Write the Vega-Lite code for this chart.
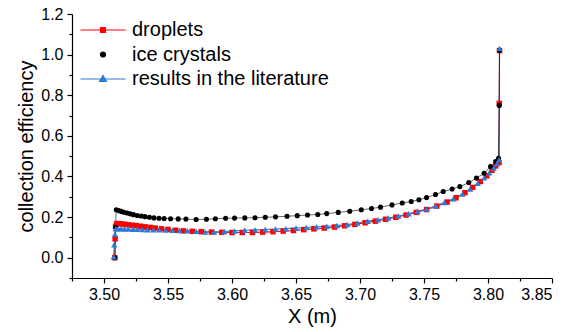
{
  "$schema": "https://vega.github.io/schema/vega-lite/v6.json",
  "width": 480,
  "height": 264,
  "autosize": {"type": "none"},
  "padding": {"left": 72, "top": 14, "right": 27, "bottom": 54},
  "background": "white",
  "config": {
    "view": {"stroke": null},
    "font": "Liberation Sans",
    "axis": {"domainColor": "black", "tickColor": "black", "labelColor": "black", "titleColor": "black", "grid": false, "domainWidth": 1.2, "tickWidth": 1.2, "labelFont": "Liberation Sans", "titleFont": "Liberation Sans", "titleFontWeight": "normal"}
  },
  "data": {"values": [
    {"s": "droplets", "x": 3.5084, "y": 0.0},
    {"s": "droplets", "x": 3.5087, "y": 0.093},
    {"s": "droplets", "x": 3.5091, "y": 0.155},
    {"s": "droplets", "x": 3.5100, "y": 0.168},
    {"s": "droplets", "x": 3.5120, "y": 0.167},
    {"s": "droplets", "x": 3.5140, "y": 0.166},
    {"s": "droplets", "x": 3.5165, "y": 0.164},
    {"s": "droplets", "x": 3.5190, "y": 0.162},
    {"s": "droplets", "x": 3.5220, "y": 0.160},
    {"s": "droplets", "x": 3.5250, "y": 0.158},
    {"s": "droplets", "x": 3.5285, "y": 0.155},
    {"s": "droplets", "x": 3.5320, "y": 0.152},
    {"s": "droplets", "x": 3.5360, "y": 0.149},
    {"s": "droplets", "x": 3.5400, "y": 0.146},
    {"s": "droplets", "x": 3.5450, "y": 0.142},
    {"s": "droplets", "x": 3.5500, "y": 0.139},
    {"s": "droplets", "x": 3.5560, "y": 0.135},
    {"s": "droplets", "x": 3.5620, "y": 0.132},
    {"s": "droplets", "x": 3.5690, "y": 0.130},
    {"s": "droplets", "x": 3.5760, "y": 0.128},
    {"s": "droplets", "x": 3.5840, "y": 0.126},
    {"s": "droplets", "x": 3.5920, "y": 0.125},
    {"s": "droplets", "x": 3.6000, "y": 0.124},
    {"s": "droplets", "x": 3.6080, "y": 0.124},
    {"s": "droplets", "x": 3.6160, "y": 0.124},
    {"s": "droplets", "x": 3.6240, "y": 0.126},
    {"s": "droplets", "x": 3.6320, "y": 0.128},
    {"s": "droplets", "x": 3.6400, "y": 0.131},
    {"s": "droplets", "x": 3.6480, "y": 0.134},
    {"s": "droplets", "x": 3.6560, "y": 0.138},
    {"s": "droplets", "x": 3.6640, "y": 0.142},
    {"s": "droplets", "x": 3.6720, "y": 0.146},
    {"s": "droplets", "x": 3.6800, "y": 0.151},
    {"s": "droplets", "x": 3.6880, "y": 0.157},
    {"s": "droplets", "x": 3.6960, "y": 0.164},
    {"s": "droplets", "x": 3.7040, "y": 0.172},
    {"s": "droplets", "x": 3.7120, "y": 0.180},
    {"s": "droplets", "x": 3.7200, "y": 0.189},
    {"s": "droplets", "x": 3.7280, "y": 0.199},
    {"s": "droplets", "x": 3.7360, "y": 0.210},
    {"s": "droplets", "x": 3.7440, "y": 0.223},
    {"s": "droplets", "x": 3.7520, "y": 0.237},
    {"s": "droplets", "x": 3.7600, "y": 0.254},
    {"s": "droplets", "x": 3.7680, "y": 0.274},
    {"s": "droplets", "x": 3.7750, "y": 0.295},
    {"s": "droplets", "x": 3.7820, "y": 0.320},
    {"s": "droplets", "x": 3.7880, "y": 0.346},
    {"s": "droplets", "x": 3.7940, "y": 0.375},
    {"s": "droplets", "x": 3.7990, "y": 0.403},
    {"s": "droplets", "x": 3.8030, "y": 0.430},
    {"s": "droplets", "x": 3.8060, "y": 0.452},
    {"s": "droplets", "x": 3.8086, "y": 0.468},
    {"s": "droplets", "x": 3.8088, "y": 0.760},
    {"s": "droplets", "x": 3.8090, "y": 1.020},
    {"s": "ice crystals", "x": 3.5086, "y": 0.0},
    {"s": "ice crystals", "x": 3.5090, "y": 0.150},
    {"s": "ice crystals", "x": 3.5096, "y": 0.236},
    {"s": "ice crystals", "x": 3.5115, "y": 0.232},
    {"s": "ice crystals", "x": 3.5135, "y": 0.228},
    {"s": "ice crystals", "x": 3.5155, "y": 0.224},
    {"s": "ice crystals", "x": 3.5180, "y": 0.220},
    {"s": "ice crystals", "x": 3.5205, "y": 0.216},
    {"s": "ice crystals", "x": 3.5230, "y": 0.212},
    {"s": "ice crystals", "x": 3.5260, "y": 0.208},
    {"s": "ice crystals", "x": 3.5290, "y": 0.205},
    {"s": "ice crystals", "x": 3.5320, "y": 0.202},
    {"s": "ice crystals", "x": 3.5355, "y": 0.199},
    {"s": "ice crystals", "x": 3.5390, "y": 0.196},
    {"s": "ice crystals", "x": 3.5430, "y": 0.194},
    {"s": "ice crystals", "x": 3.5470, "y": 0.193},
    {"s": "ice crystals", "x": 3.5520, "y": 0.192},
    {"s": "ice crystals", "x": 3.5580, "y": 0.191},
    {"s": "ice crystals", "x": 3.5640, "y": 0.190},
    {"s": "ice crystals", "x": 3.5720, "y": 0.188},
    {"s": "ice crystals", "x": 3.5800, "y": 0.189},
    {"s": "ice crystals", "x": 3.5870, "y": 0.192},
    {"s": "ice crystals", "x": 3.5950, "y": 0.194},
    {"s": "ice crystals", "x": 3.6020, "y": 0.195},
    {"s": "ice crystals", "x": 3.6100, "y": 0.196},
    {"s": "ice crystals", "x": 3.6180, "y": 0.197},
    {"s": "ice crystals", "x": 3.6260, "y": 0.199},
    {"s": "ice crystals", "x": 3.6340, "y": 0.201},
    {"s": "ice crystals", "x": 3.6430, "y": 0.204},
    {"s": "ice crystals", "x": 3.6510, "y": 0.207},
    {"s": "ice crystals", "x": 3.6590, "y": 0.210},
    {"s": "ice crystals", "x": 3.6670, "y": 0.213},
    {"s": "ice crystals", "x": 3.6740, "y": 0.217},
    {"s": "ice crystals", "x": 3.6830, "y": 0.223},
    {"s": "ice crystals", "x": 3.6920, "y": 0.229},
    {"s": "ice crystals", "x": 3.7010, "y": 0.236},
    {"s": "ice crystals", "x": 3.7090, "y": 0.242},
    {"s": "ice crystals", "x": 3.7160, "y": 0.249},
    {"s": "ice crystals", "x": 3.7250, "y": 0.260},
    {"s": "ice crystals", "x": 3.7330, "y": 0.269},
    {"s": "ice crystals", "x": 3.7400, "y": 0.277},
    {"s": "ice crystals", "x": 3.7460, "y": 0.285},
    {"s": "ice crystals", "x": 3.7520, "y": 0.296},
    {"s": "ice crystals", "x": 3.7590, "y": 0.311},
    {"s": "ice crystals", "x": 3.7650, "y": 0.326},
    {"s": "ice crystals", "x": 3.7720, "y": 0.338},
    {"s": "ice crystals", "x": 3.7780, "y": 0.350},
    {"s": "ice crystals", "x": 3.7850, "y": 0.370},
    {"s": "ice crystals", "x": 3.7910, "y": 0.392},
    {"s": "ice crystals", "x": 3.7970, "y": 0.416},
    {"s": "ice crystals", "x": 3.8020, "y": 0.449},
    {"s": "ice crystals", "x": 3.8060, "y": 0.473},
    {"s": "ice crystals", "x": 3.8082, "y": 0.490},
    {"s": "ice crystals", "x": 3.8088, "y": 0.750},
    {"s": "ice crystals", "x": 3.8090, "y": 1.020},
    {"s": "results in the literature", "x": 3.5076, "y": 0.005},
    {"s": "results in the literature", "x": 3.5080, "y": 0.064},
    {"s": "results in the literature", "x": 3.5086, "y": 0.115},
    {"s": "results in the literature", "x": 3.5092, "y": 0.142},
    {"s": "results in the literature", "x": 3.5110, "y": 0.143},
    {"s": "results in the literature", "x": 3.5135, "y": 0.142},
    {"s": "results in the literature", "x": 3.5160, "y": 0.141},
    {"s": "results in the literature", "x": 3.5190, "y": 0.141},
    {"s": "results in the literature", "x": 3.5225, "y": 0.140},
    {"s": "results in the literature", "x": 3.5260, "y": 0.140},
    {"s": "results in the literature", "x": 3.5300, "y": 0.139},
    {"s": "results in the literature", "x": 3.5340, "y": 0.138},
    {"s": "results in the literature", "x": 3.5385, "y": 0.137},
    {"s": "results in the literature", "x": 3.5430, "y": 0.137},
    {"s": "results in the literature", "x": 3.5480, "y": 0.136},
    {"s": "results in the literature", "x": 3.5535, "y": 0.135},
    {"s": "results in the literature", "x": 3.5590, "y": 0.134},
    {"s": "results in the literature", "x": 3.5650, "y": 0.133},
    {"s": "results in the literature", "x": 3.5720, "y": 0.130},
    {"s": "results in the literature", "x": 3.5790, "y": 0.127},
    {"s": "results in the literature", "x": 3.5860, "y": 0.126},
    {"s": "results in the literature", "x": 3.5940, "y": 0.129},
    {"s": "results in the literature", "x": 3.6020, "y": 0.132},
    {"s": "results in the literature", "x": 3.6100, "y": 0.135},
    {"s": "results in the literature", "x": 3.6180, "y": 0.137},
    {"s": "results in the literature", "x": 3.6260, "y": 0.139},
    {"s": "results in the literature", "x": 3.6340, "y": 0.141},
    {"s": "results in the literature", "x": 3.6420, "y": 0.143},
    {"s": "results in the literature", "x": 3.6500, "y": 0.146},
    {"s": "results in the literature", "x": 3.6580, "y": 0.149},
    {"s": "results in the literature", "x": 3.6660, "y": 0.152},
    {"s": "results in the literature", "x": 3.6740, "y": 0.155},
    {"s": "results in the literature", "x": 3.6820, "y": 0.158},
    {"s": "results in the literature", "x": 3.6900, "y": 0.163},
    {"s": "results in the literature", "x": 3.6980, "y": 0.171},
    {"s": "results in the literature", "x": 3.7060, "y": 0.180},
    {"s": "results in the literature", "x": 3.7140, "y": 0.187},
    {"s": "results in the literature", "x": 3.7220, "y": 0.195},
    {"s": "results in the literature", "x": 3.7300, "y": 0.205},
    {"s": "results in the literature", "x": 3.7380, "y": 0.216},
    {"s": "results in the literature", "x": 3.7450, "y": 0.228},
    {"s": "results in the literature", "x": 3.7520, "y": 0.240},
    {"s": "results in the literature", "x": 3.7590, "y": 0.255},
    {"s": "results in the literature", "x": 3.7660, "y": 0.272},
    {"s": "results in the literature", "x": 3.7730, "y": 0.290},
    {"s": "results in the literature", "x": 3.7800, "y": 0.313},
    {"s": "results in the literature", "x": 3.7860, "y": 0.338},
    {"s": "results in the literature", "x": 3.7920, "y": 0.367},
    {"s": "results in the literature", "x": 3.7970, "y": 0.393},
    {"s": "results in the literature", "x": 3.8010, "y": 0.418},
    {"s": "results in the literature", "x": 3.8045, "y": 0.442},
    {"s": "results in the literature", "x": 3.8070, "y": 0.462},
    {"s": "results in the literature", "x": 3.8086, "y": 0.482},
    {"s": "results in the literature", "x": 3.8090, "y": 1.030}
  ]},
  "resolve": {"axis": {"x": "independent", "y": "independent"}},
  "layer": [
    {
      "mark": {"type": "point", "opacity": 0},
      "encoding": {
        "x": {"field": "x", "type": "quantitative", "scale": {"domain": [3.475, 3.85], "nice": false, "zero": false},
          "axis": {"orient": "bottom", "values": [3.475, 3.525, 3.575, 3.625, 3.675, 3.725, 3.775, 3.825], "labels": false, "domain": false, "tickSize": 3, "title": null, "grid": false}},
        "y": {"field": "y", "type": "quantitative", "scale": {"domain": [-0.1, 1.2], "nice": false, "zero": false},
          "axis": {"orient": "left", "values": [-0.1, 0.1, 0.3, 0.5, 0.7, 0.9, 1.1], "labels": false, "domain": false, "tickSize": 3, "title": null, "grid": false}}
      }
    },
    {
      "transform": [{"filter": "datum.s !== 'ice crystals'"}],
      "mark": {"type": "line", "interpolate": "linear", "strokeWidth": 1.1},
      "encoding": {
        "x": {"field": "x", "type": "quantitative",
          "axis": {"orient": "bottom", "values": [3.5, 3.55, 3.6, 3.65, 3.7, 3.75, 3.8, 3.85], "format": ".2f", "tickSize": 5, "labelFontSize": 16, "labelPadding": 3, "title": "X (m)", "titleFontSize": 20, "titlePadding": 4}},
        "y": {"field": "y", "type": "quantitative",
          "axis": {"orient": "left", "values": [0, 0.2, 0.4, 0.6, 0.8, 1.0, 1.2], "format": ".1f", "tickSize": 5, "labelFontSize": 16, "labelPadding": 4, "title": "collection efficiency", "titleFontSize": 20, "titlePadding": 4}},
        "color": {"field": "s", "type": "nominal", "scale": {"domain": ["droplets", "ice crystals", "results in the literature"], "range": ["#ff0000", "#000000", "#2f7ad6"]},
          "legend": {
            "title": null, "orient": "none", "legendX": 20, "legendY": 5,
            "symbolSize": 400, "rowPadding": 3.5, "labelOffset": 18, "labelLimit": 400,
            "labelFontSize": 20, "labelFont": "Liberation Sans", "labelColor": "black",
            "symbolStrokeWidth": 1.2,
            "encode": {"symbols": {"update": {
              "shape": {"signal": "datum.value === 'droplets' ? 'M-2.25,0H2.25M-0.25,-0.25H0.25V0.25H-0.25Z' : datum.value === 'ice crystals' ? 'M0,-0.25A0.25,0.25 0 1,1 0,0.25A0.25,0.25 0 1,1 0,-0.25Z' : 'M-2.25,0H2.25M0,-0.35L0.35,0.25H-0.35Z'"},
              "fill": {"signal": "scale('color', datum.value)"},
              "stroke": {"signal": "scale('color', datum.value)"},
              "strokeWidth": {"value": 1.2},
              "size": {"value": 400},
              "opacity": {"value": 1}
            }}}
          }}
      }
    },
    {
      "transform": [{"filter": "datum.s === 'ice crystals'"}],
      "mark": {"type": "line", "interpolate": "linear", "strokeWidth": 0.6},
      "encoding": {
        "x": {"field": "x", "type": "quantitative", "axis": null},
        "y": {"field": "y", "type": "quantitative", "axis": null},
        "color": {"field": "s", "type": "nominal"}
      }
    },
    {
      "transform": [{"filter": "datum.s === 'droplets'"}],
      "mark": {"type": "point", "filled": true, "opacity": 1, "shape": "square", "size": 30},
      "encoding": {
        "x": {"field": "x", "type": "quantitative", "axis": null},
        "y": {"field": "y", "type": "quantitative", "axis": null},
        "color": {"field": "s", "type": "nominal"}
      }
    },
    {
      "transform": [{"filter": "datum.s === 'ice crystals'"}],
      "mark": {"type": "point", "filled": true, "opacity": 1, "shape": "circle", "size": 26},
      "encoding": {
        "x": {"field": "x", "type": "quantitative", "axis": null},
        "y": {"field": "y", "type": "quantitative", "axis": null},
        "color": {"field": "s", "type": "nominal"}
      }
    },
    {
      "transform": [{"filter": "datum.s === 'results in the literature'"}],
      "mark": {"type": "point", "filled": true, "opacity": 1, "shape": "triangle-up", "size": 40},
      "encoding": {
        "x": {"field": "x", "type": "quantitative", "axis": null},
        "y": {"field": "y", "type": "quantitative", "axis": null},
        "color": {"field": "s", "type": "nominal"}
      }
    }
  ]
}
